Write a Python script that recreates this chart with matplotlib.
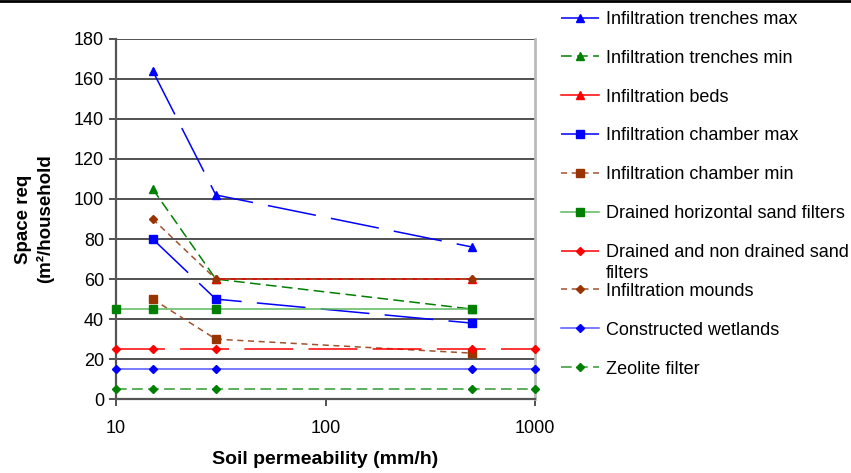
import matplotlib

matplotlib.use("Agg")
import matplotlib.pyplot as plt  # noqa: E402
from matplotlib.lines import Line2D  # noqa: E402

plt.rcParams["font.family"] = ["Liberation Sans", "DejaVu Sans"]

# soil permeability (mm/h) and space requirement (m2/household) per system
trench_max_x = [15, 30, 500]
trench_max_y = [164, 102, 76]
trench_min_x = [15, 30, 500]
trench_min_y = [105, 60, 45]
beds_x = [30, 500]
beds_y = [60, 60]
chamber_max_x = [15, 30, 500]
chamber_max_y = [80, 50, 38]
chamber_min_x = [15, 30, 500]
chamber_min_y = [50, 30, 23]
horiz_x = [10, 15, 30, 500]
horiz_y = [45, 45, 45, 45]
sand_x = [10, 15, 30, 500, 1000]
sand_y = [25, 25, 25, 25, 25]
mounds_x = [15, 30, 500]
mounds_y = [90, 60, 60]
wetland_x = [10, 15, 30, 500, 1000]
wetland_y = [15, 15, 15, 15, 15]
zeolite_x = [10, 15, 30, 500, 1000]
zeolite_y = [5, 5, 5, 5, 5]

LONG = (0, (32, 10))
SHORT = (0, (4, 3))
MED = (0, (7, 3.5))

series = [
    (trench_max_x, trench_max_y, "Infiltration trenches max", "#0000ff", LONG, "^", 6, "#0000ff"),
    (trench_min_x, trench_min_y, "Infiltration trenches min", "#008000", MED, "^", 6, "#008000"),
    (beds_x, beds_y, "Infiltration beds", "#ff0000", "-", "^", 6, "#ff0000"),
    (chamber_max_x, chamber_max_y, "Infiltration chamber max", "#0000ff", LONG, "s", 5.5, "#0000ff"),
    (chamber_min_x, chamber_min_y, "Infiltration chamber min", "#a0522d", SHORT, "s", 5.5, "#993300"),
    (horiz_x, horiz_y, "Drained horizontal sand filters", "#5cb85c", "-", "s", 5.5, "#008000"),
    (sand_x, sand_y, "Drained and non drained sand", "#ff0000", LONG, "D", 3.8, "#ff0000"),
    (mounds_x, mounds_y, "Infiltration mounds", "#a0522d", SHORT, "D", 3.8, "#993300"),
    (wetland_x, wetland_y, "Constructed wetlands", "#5555ff", "-", "D", 3.8, "#0000ff"),
    (zeolite_x, zeolite_y, "Zeolite filter", "#2e9a2e", MED, "D", 3.8, "#008000"),
]

FS = 13

fig = plt.figure(figsize=(8.51, 4.73), dpi=100)
ax = fig.add_axes([0.136, 0.156, 0.493, 0.762])

handles = []
for xs, ys, label, lc, ls, mk, ms, mc in series:
    (h,) = ax.plot(xs, ys, color=lc, linestyle=ls, linewidth=1.1, marker=mk,
                   markersize=ms, markerfacecolor=mc, markeredgecolor=mc,
                   label=label, clip_on=False, zorder=3)
    handles.append(h)

ax.set_xscale("log")
ax.set_xlim(10, 1000)
ax.set_ylim(0, 180)
ax.set_yticks(range(0, 181, 20))
ax.set_xticks([10, 100, 1000])
ax.set_xticklabels(["10", "100", "1000"])
ax.minorticks_off()
ax.tick_params(axis="both", labelsize=FS, length=5, width=1.2, color="#333333",
               direction="out")
ax.tick_params(axis="x", pad=10)
ax.grid(True, axis="y", color="#222222", linewidth=1.1)
ax.set_axisbelow(True)

ax.spines["top"].set_visible(False)
ax.spines["left"].set_color("#555555")
ax.spines["left"].set_linewidth(1.6)
ax.spines["bottom"].set_color("#555555")
ax.spines["bottom"].set_linewidth(1.6)
ax.spines["right"].set_color("#bbbbbb")
ax.spines["right"].set_linewidth(2)

ax.set_xlabel("Soil permeability (mm/h)", fontsize=14, fontweight="bold", labelpad=10)
ax.set_ylabel("Space req\n(m²/household", fontsize=13.5, fontweight="bold", labelpad=14,
              linespacing=1.3)

leg = fig.legend(handles=handles, loc="upper left", bbox_to_anchor=(0.659, 0.977),
                 frameon=False, fontsize=FS, handlelength=2.1, handletextpad=0.4,
                 labelspacing=1.21, borderpad=0, borderaxespad=0)

# second line of the wrapped legend label
fig.canvas.draw()
bb = leg.get_texts()[6].get_window_extent().transformed(fig.transFigure.inverted())
fig.text(bb.x0, bb.y0 - 0.008, "filters", fontsize=FS, va="top", ha="left")

# thin rule across the top of the image
fig.add_artist(Line2D([0, 1], [0.998, 0.998], transform=fig.transFigure,
                      color="black", linewidth=2))

fig.savefig("out.png", dpi=100)
